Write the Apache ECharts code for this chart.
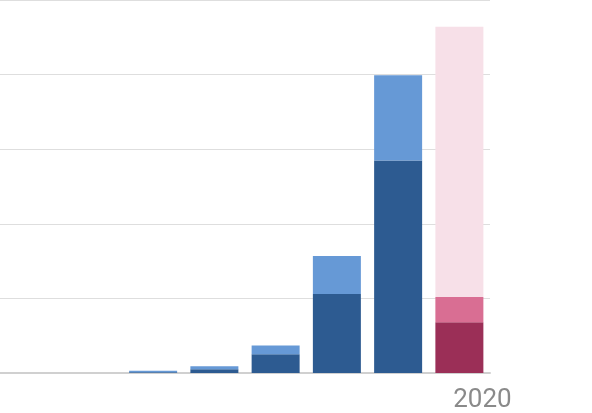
<!DOCTYPE html>
<html>
<head>
<meta charset="utf-8">
<script src="https://cdn.jsdelivr.net/npm/echarts@6/dist/echarts.min.js"></script>
<style>html,body{margin:0;padding:0;background:#fff}#chart{width:592px;height:413px}</style>
</head>
<body>
<div id="chart"></div>
<script>
var years = ['2013', '2014', '2015', '2016', '2017', '2018', '2019', '2020'];
var baseVals = [0, 0, 0.01, 0.05, 0.25, 1.06, 2.85, 0.68];
var extraVals = [0, 0, 0.02, 0.04, 0.12, 0.51, 1.14, 0.34];
var restVals = [0, 0, 0, 0, 0, 0, 0, 3.62];

var chart = echarts.init(document.getElementById('chart'));
var last = years.length - 1;
chart.setOption({
    animation: false,
    grid: { left: -14, right: 102, top: -5.5, bottom: 36 },
    xAxis: {
        type: 'category',
        data: years,
        axisTick: { show: false },
        axisLine: { lineStyle: { color: '#d0d0d0', width: 2 } },
        axisLabel: {
            interval: 0,
            color: '#8a8a8a',
            fontSize: 26,
            fontFamily: 'Roboto',
            margin: 14,
            padding: [0, 0, 0, 46],
            formatter: function (v, i) { return i === last ? v : ''; }
        }
    },
    yAxis: {
        type: 'value', min: 0, max: 5, interval: 1,
        axisLabel: { show: false },
        splitLine: { lineStyle: { color: '#dedede' } }
    },
    series: [
        {
            type: 'bar', stack: 'a', barWidth: 48,
            data: baseVals.map(function (v, i) {
                return { value: v, itemStyle: { color: i === last ? '#9b2f57' : '#2d5b91' } };
            })
        },
        {
            type: 'bar', stack: 'a', barWidth: 48,
            data: extraVals.map(function (v, i) {
                return { value: v, itemStyle: { color: i === last ? '#d96e93' : '#6699d6' } };
            })
        },
        {
            type: 'bar', stack: 'a', barWidth: 48,
            itemStyle: { color: '#f7e0e8' },
            data: restVals
        }
    ]
});
</script>
</body>
</html>
